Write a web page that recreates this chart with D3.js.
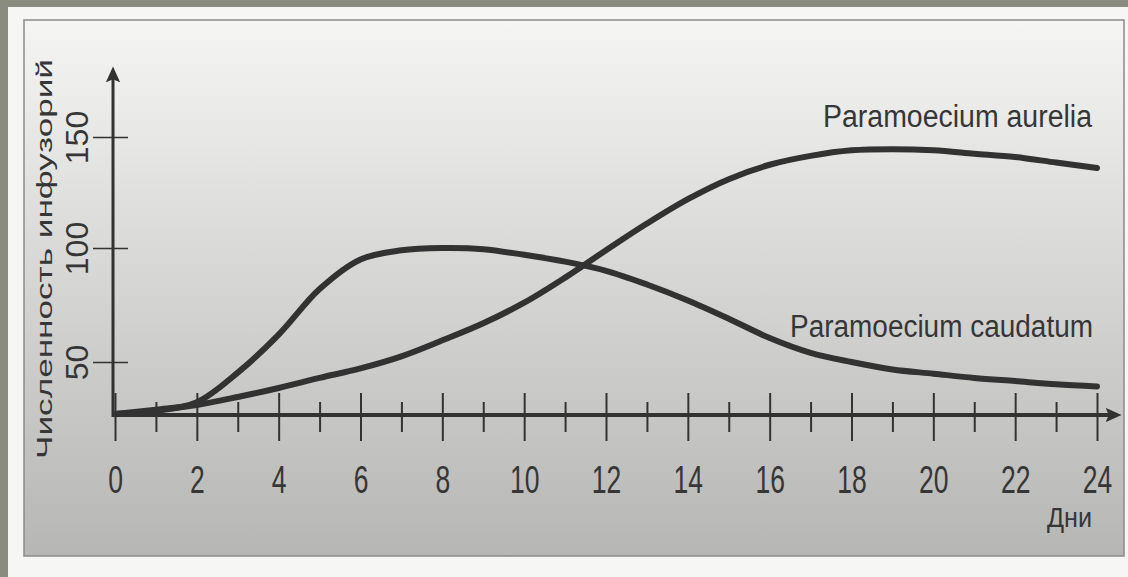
<!DOCTYPE html>
<html>
<head>
<meta charset="utf-8">
<script src="https://cdn.jsdelivr.net/npm/d3@7"></script>
<style>
  html, body { margin: 0; padding: 0; background: #8a8c7f; }
  svg { display: block; }
  text { font-family: "Liberation Sans", "DejaVu Sans", sans-serif; fill: #363636; }
</style>
</head>
<body>
<svg width="1128" height="577"></svg>
<script>
/* globals d3 */

// days 0..24
var days = d3.range(0, 25);
// population
var aurelia  = [1, 5, 9.5, 17, 25.5, 35, 44, 52.5, 59.5, 67, 76, 87, 99, 111, 122, 131, 137.5, 141.5, 144, 144.5, 144, 142.5, 141, 138.5, 136];
var caudatum = [1, 4, 12, 40, 62, 82, 95, 99, 100, 99.5, 97, 94, 90, 84, 77, 69, 60.5, 54, 50, 43, 39, 35, 32, 29, 27];
var seriesNames = ["Paramoecium aurelia", "Paramoecium caudatum"];
var xTickLabels = [0, 2, 4, 6, 8, 10, 12, 14, 16, 18, 20, 22, 24];
var xMinorTicks = [1, 3, 5, 7, 9, 11, 13, 15, 17, 19, 21, 23];
var yTickLabels = [50, 100, 150];
var yTitle = "Численность инфузорий";
var xTitle = "Дни";

var svg = d3.select("svg"),
    ink = "#333";

// the scan's y axis is not quite linear below 50, so a polylinear scale
var x = d3.scaleLinear().domain([0, 24]).range([115, 1097]),
    y = d3.scaleLinear().domain([0, 50, 100, 150]).range([415, 362, 248, 137]);

var defs = svg.append("defs");
var grad = defs.append("linearGradient")
  .attr("id", "paper").attr("x1", 0).attr("y1", 0).attr("x2", 0).attr("y2", 1);
grad.append("stop").attr("offset", "0%").attr("stop-color", "#f5f5f4");
grad.append("stop").attr("offset", "45%").attr("stop-color", "#d8d8d7");
grad.append("stop").attr("offset", "100%").attr("stop-color", "#b6b6b5");

defs.append("filter").attr("id", "soft")
  .append("feGaussianBlur").attr("stdDeviation", 0.6);

defs.append("marker")
  .attr("id", "arrow")
  .attr("viewBox", "0 0 10 10")
  .attr("refX", 4).attr("refY", 5)
  .attr("markerWidth", 16).attr("markerHeight", 16)
  .attr("markerUnits", "userSpaceOnUse")
  .attr("orient", "auto")
  .append("path")
  .attr("d", "M0,0.5 L10,5 L0,9.5 L2,5 Z")
  .attr("fill", ink);

// sheet + panel
svg.append("rect").attr("x", 8).attr("y", 7).attr("width", 1120).attr("height", 570).attr("fill", "#f6f6f4");
svg.append("rect").attr("x", 24).attr("y", 20).attr("width", 1100).attr("height", 536)
  .attr("fill", "url(#paper)").attr("stroke", "#8a8a8a").attr("stroke-width", 1.5);

var g = svg.append("g").attr("filter", "url(#soft)");

// x axis: major ticks with labels
var xAxis = svg.append("g")
  .attr("transform", "translate(0," + y(0) + ")")
  .call(d3.axisBottom(x).tickValues(xTickLabels).tickFormat(d3.format("d")));
xAxis.select(".domain").remove();
xAxis.selectAll(".tick line").attr("y1", -22).attr("y2", 26).attr("stroke", ink).attr("stroke-width", 2);
xAxis.selectAll(".tick text")
  .attr("y", 0).attr("dy", 0)
  .attr("transform", "translate(0,78) scale(0.68,1)")
  .attr("font-size", 39)
  .attr("fill", "#363636");

// x axis: minor ticks
var xMinor = svg.append("g")
  .attr("transform", "translate(0," + y(0) + ")")
  .call(d3.axisBottom(x).tickValues(xMinorTicks).tickFormat(""));
xMinor.select(".domain").remove();
xMinor.selectAll(".tick line").attr("y1", -13).attr("y2", 17).attr("stroke", ink).attr("stroke-width", 2);

// y axis
var yAxis = svg.append("g")
  .attr("transform", "translate(" + (x(0) - 2) + ",0)")
  .call(d3.axisLeft(y).tickValues(yTickLabels).tickFormat(d3.format("d")));
yAxis.select(".domain").remove();
yAxis.selectAll(".tick line").attr("x1", -20).attr("x2", 15).attr("stroke", ink).attr("stroke-width", 1.5);
yAxis.selectAll(".tick text")
  .attr("x", 0).attr("dy", 0)
  .attr("transform", "translate(-25,0) rotate(-90)")
  .attr("text-anchor", "middle")
  .attr("font-size", 32)
  .attr("fill", "#363636");

// axis lines with arrows
g.append("line")
  .attr("x1", x(0) - 2).attr("y1", y(0))
  .attr("x2", x(24) + 15).attr("y2", y(0))
  .attr("stroke", ink).attr("stroke-width", 4)
  .attr("marker-end", "url(#arrow)");
g.append("line")
  .attr("x1", x(0) - 2).attr("y1", y(0) + 2)
  .attr("x2", x(0) - 2).attr("y2", 76)
  .attr("stroke", ink).attr("stroke-width", 3)
  .attr("marker-end", "url(#arrow)");

// curves
var line = d3.line()
  .x(function(d, i) { return x(days[i]); })
  .y(function(d) { return y(d); })
  .curve(d3.curveCatmullRom.alpha(0.5));

[aurelia, caudatum].forEach(function(s) {
  g.append("path")
    .datum(s)
    .attr("d", line)
    .attr("fill", "none")
    .attr("stroke", ink)
    .attr("stroke-width", 6)
    .attr("stroke-linecap", "round");
});

// series labels
svg.append("text")
  .attr("x", 823).attr("y", 127)
  .attr("font-size", 31)
  .attr("textLength", 269).attr("lengthAdjust", "spacingAndGlyphs")
  .text(seriesNames[0]);
svg.append("text")
  .attr("x", 790).attr("y", 337)
  .attr("font-size", 31)
  .attr("textLength", 303).attr("lengthAdjust", "spacingAndGlyphs")
  .text(seriesNames[1]);

// axis titles
svg.append("text")
  .attr("transform", "translate(52,259) rotate(-90)")
  .attr("text-anchor", "middle")
  .attr("font-size", 22)
  .attr("textLength", 400).attr("lengthAdjust", "spacingAndGlyphs")
  .text(yTitle);
svg.append("text")
  .attr("x", 1047).attr("y", 527)
  .attr("font-size", 27)
  .attr("textLength", 45).attr("lengthAdjust", "spacingAndGlyphs")
  .text(xTitle);
</script>
</body>
</html>
